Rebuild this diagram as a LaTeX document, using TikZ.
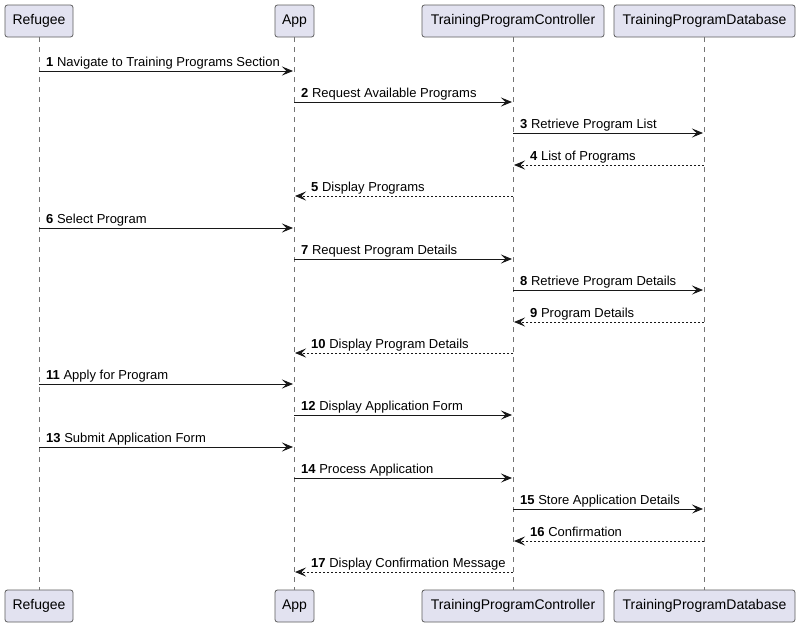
\documentclass[tikz,border=0pt]{standalone}
\usepackage{fontspec}
\setmainfont{Liberation Sans}
\usetikzlibrary{arrows.meta}
\definecolor{partfill}{HTML}{E2E2F0}
\definecolor{ink}{HTML}{181818}
\begin{document}
\begin{tikzpicture}[x=1pt,y=-1pt,
  part/.style={draw=ink!70, fill=partfill, rounded corners=2.5pt, line width=0.8pt,
    minimum height=32pt, inner sep=0pt, font=\fontsize{14}{16}\selectfont, text=black},
  life/.style={draw=ink!60, line width=0.7pt, dash pattern=on 5pt off 5pt},
  msg/.style={draw=ink, line width=0.9pt, -{Stealth[length=11pt,width=9pt,inset=4.5pt]}},
  ret/.style={msg, dash pattern=on 2pt off 2pt},
  lbl/.style={anchor=base west, inner sep=0pt, font=\fontsize{13}{15}\selectfont}]
\useasboundingbox (0,0) rectangle (800,627);
\fill[white] (0,0) rectangle (800,627);
% participants
\node[part, minimum width=68pt] (rT) at (39,21) {Refugee};
\node[part, minimum width=39pt] (aT) at (294.5,21) {App};
\node[part, minimum width=182pt] (cT) at (513,21) {TrainingProgramController};
\node[part, minimum width=181pt] (dT) at (704.5,21) {TrainingProgramDatabase};
\node[part, minimum width=68pt] (rB) at (39,606) {Refugee};
\node[part, minimum width=39pt] (aB) at (294.5,606) {App};
\node[part, minimum width=182pt] (cB) at (513,606) {TrainingProgramController};
\node[part, minimum width=181pt] (dB) at (704.5,606) {TrainingProgramDatabase};
% lifelines
\draw[life] (rT.south) -- (rB.north);
\draw[life] (aT.south) -- (aB.north);
\draw[life] (cT.south) -- (cB.north);
\draw[life] (dT.south) -- (dB.north);
% coordinates on lifelines
\foreach \n/\y in {1/71,2/102,3/133,4/165,5/196,6/228,7/259,8/290,9/322,10/353,11/384,12/415,13/447,14/478,15/509,16/541,17/572}{
  \coordinate (r\n) at (39,\y);
  \coordinate (a\n) at (294,\y);
  \coordinate (c\n) at (513,\y);
  \coordinate (d\n) at (704,\y);
}
% forward messages
\foreach \n/\s/\t/\txt in {
  1/r/a/Navigate to Training Programs Section,
  2/a/c/Request Available Programs,
  3/c/d/Retrieve Program List,
  6/r/a/Select Program,
  7/a/c/Request Program Details,
  8/c/d/Retrieve Program Details,
  11/r/a/Apply for Program,
  12/a/c/Display Application Form,
  13/r/a/Submit Application Form,
  14/a/c/Process Application,
  15/c/d/Store Application Details}{
  \draw[msg] (\s\n) -- ([xshift=-1pt]\t\n);
  \node[lbl] at ([xshift=7pt,yshift=5pt]\s\n) {\textbf{\n} \txt};
}
% return messages
\foreach \n/\s/\t/\txt in {
  4/d/c/List of Programs,
  5/c/a/Display Programs,
  9/d/c/Program Details,
  10/c/a/Display Program Details,
  16/d/c/Confirmation,
  17/c/a/Display Confirmation Message}{
  \draw[ret] (\s\n) -- ([xshift=1pt]\t\n);
  \node[lbl] at ([xshift=17pt,yshift=5pt]\t\n) {\textbf{\n} \txt};
}
\end{tikzpicture}
\end{document}
